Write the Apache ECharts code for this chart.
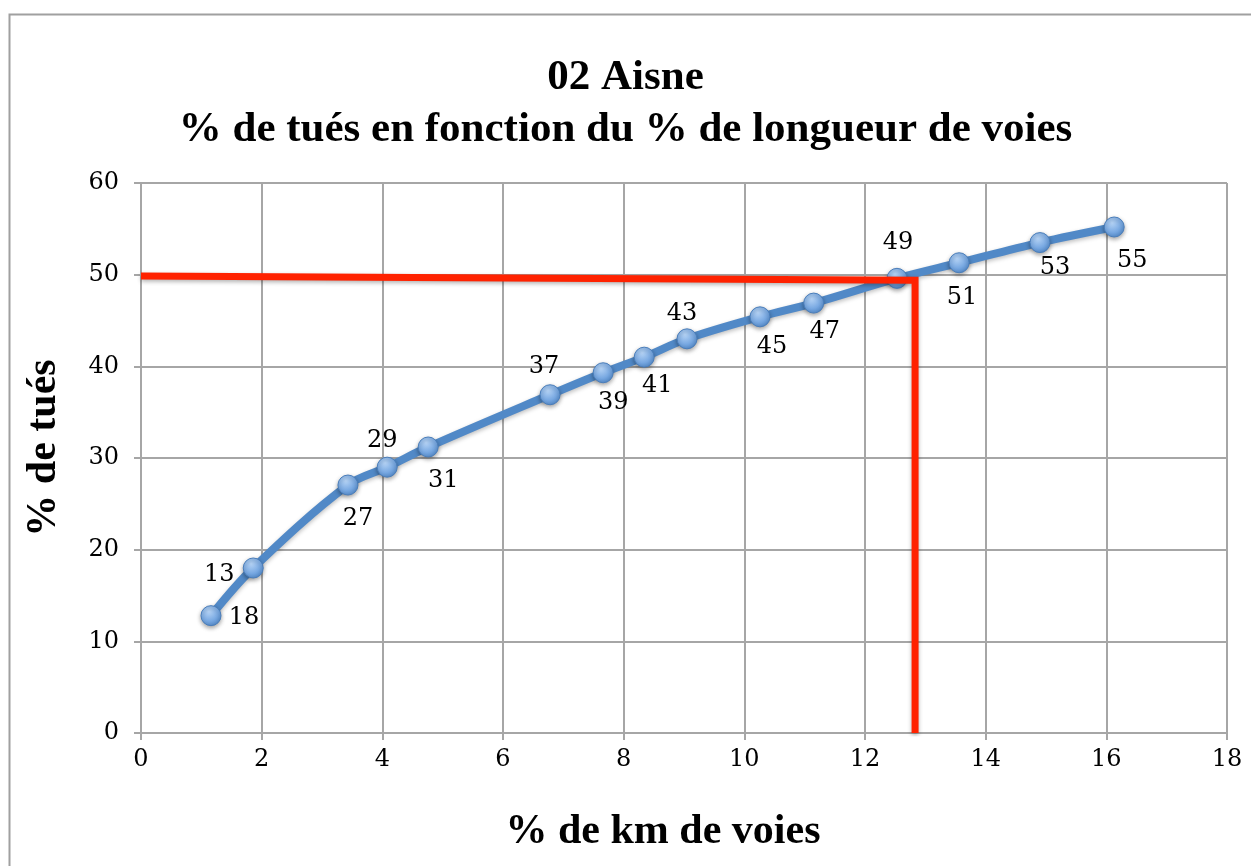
<!DOCTYPE html>
<html>
<head>
<meta charset="utf-8">
<title>02 Aisne</title>
<script src="https://cdn.jsdelivr.net/npm/echarts@6/dist/echarts.min.js"></script>
<style>
	html,body{margin:0;padding:0;background:#fff;}
	#main{width:1251px;height:866px;}
</style>
</head>
<body>
<div id="main"></div>
<script>
// donnees
var kmVoies = [1.16, 1.86, 3.43, 4.08, 4.76, 6.78, 7.66, 8.34, 9.05, 10.26, 11.15, 12.53, 13.56, 14.90, 16.13];
var tues = [12.8, 18.0, 27.05, 29.0, 31.2, 36.9, 39.3, 41.0, 43.0, 45.4, 46.9, 49.6, 51.3, 53.5, 55.2];
var etiquettes = ['18', '13', '27', '29', '31', '37', '39', '41', '43', '45', '47', '49', '51', '53', '55'];
var repereX = [0, 12.83, 12.83];
var repereY = [49.85, 49.4, 0];
var xTicks = [0, 2, 4, 6, 8, 10, 12, 14, 16, 18];
var yTicks = [0, 10, 20, 30, 40, 50, 60];

// decalage des etiquettes (style)
var decal = [[33,2],[-34,7],[10,34],[-5,-26],[15,34],[-6,-28],[10,30],[13,29],[-5,-25],[12,30],[11,29],[1,-36],[3,35],[15,25],[18,34]];

var points = [];
for(var i=0;i<kmVoies.length;i++){
	points.push({
		value:[kmVoies[i], tues[i]],
		label:{show:true, position:'inside', offset:decal[i], formatter:etiquettes[i]}
	});
}
var repere = [];
for(var j=0;j<repereX.length;j++){
	repere.push([repereX[j], repereY[j]]);
}

var serif = '"Liberation Serif", "DejaVu Serif", serif';
var chiffres = '"DejaVu Serif", "Liberation Serif", serif';
var gris = '#a6a6a6';

var myChart = echarts.init(document.getElementById('main'));
var option = {
	backgroundColor:'#fff',
	animation:false,
	title:{
		text:'02 Aisne\n% de tués en fonction du % de longueur de voies',
		left:'center', top:47,
		textStyle:{fontFamily:serif, fontWeight:'bold', fontSize:43, color:'#000', lineHeight:52}
	},
	graphic:[{
		type:'rect', left:7, top:12, z:-1,
		shape:{width:1270, height:880},
		style:{fill:null, stroke:'#a0a0a0', lineWidth:2}
	}],
	grid:{left:141, right:24, top:183, bottom:133},
	xAxis:{
		type:'value', min:0, max:18, interval:2,
		name:'% de km de voies', nameLocation:'middle', nameGap:78,
		nameTextStyle:{fontFamily:serif, fontWeight:'bold', fontSize:42, color:'#000', padding:[0,42,0,0]},
		axisLine:{show:true, lineStyle:{color:gris, width:2}},
		axisTick:{show:true, length:7, lineStyle:{color:gris, width:2}},
		axisLabel:{fontFamily:chiffres, fontSize:24, color:'#000', margin:15},
		splitLine:{show:true, lineStyle:{color:gris, width:2}}
	},
	yAxis:{
		type:'value', min:0, max:60, interval:10,
		name:'% de tués', nameLocation:'middle', nameGap:76, nameRotate:90,
		nameTextStyle:{fontFamily:serif, fontWeight:'bold', fontSize:42, color:'#000', padding:[0,0,0,20]},
		axisLine:{show:true, lineStyle:{color:gris, width:2}},
		axisTick:{show:true, length:7, lineStyle:{color:gris, width:2}},
		axisLabel:{fontFamily:chiffres, fontSize:24, color:'#000', margin:22},
		splitLine:{show:true, lineStyle:{color:gris, width:2}}
	},
	series:[{
		type:'line',
		data:points,
		smooth:0.35,
		z:3,
		symbol:'circle',
		symbolSize:20,
		lineStyle:{color:'#5189c7', width:8, shadowColor:'rgba(0,0,0,0.25)', shadowBlur:4, shadowOffsetY:2},
		itemStyle:{
			color:new echarts.graphic.RadialGradient(0.4, 0.3, 0.75, [
				{offset:0, color:'#b5d3f5'},
				{offset:0.6, color:'#79a9e2'},
				{offset:1, color:'#4f86c6'}
			]),
			borderColor:'#4a7ebb', borderWidth:1,
			shadowColor:'rgba(0,0,0,0.35)', shadowBlur:4, shadowOffsetY:2
		},
		label:{fontFamily:chiffres, fontSize:24, color:'#000'}
	},{
		type:'line',
		data:repere,
		z:4,
		symbol:'none',
		lineStyle:{color:'#ff2200', width:7, join:'miter', cap:'butt', shadowColor:'rgba(0,0,0,0.3)', shadowBlur:4, shadowOffsetY:2}
	}]
};
myChart.setOption(option);
</script>
</body>
</html>
